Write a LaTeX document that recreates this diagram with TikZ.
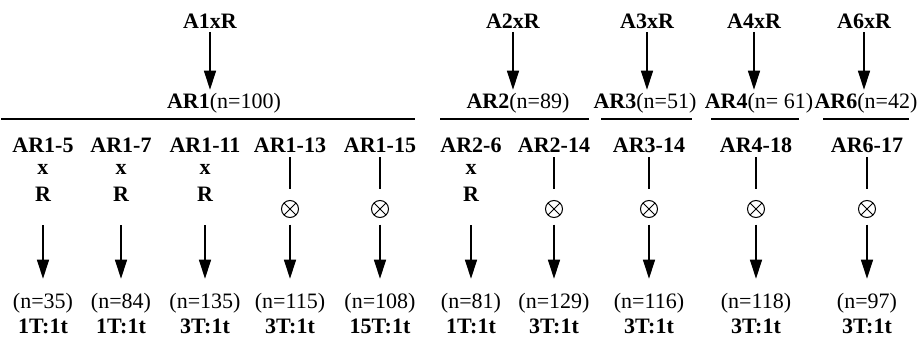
\documentclass[tikz,border=0pt]{standalone}
\usepackage{fontspec}
\setmainfont{Liberation Serif}
\usetikzlibrary{arrows.meta}
\begin{document}
\begin{tikzpicture}[x=1pt,y=-1pt,
  every node/.style={inner sep=0pt,outer sep=0pt,font=\fontsize{22}{26}\selectfont},
  bt/.style={anchor=base,font=\fontsize{22}{26}\selectfont\bfseries},
  rt/.style={anchor=base},
  arr/.style={line width=1.3pt,-{Triangle[length=19pt,width=12pt]}},
  stem/.style={line width=1.2pt},
  rule/.style={line width=1.5pt},
  ox/.style={circle,draw,line width=1pt,minimum size=17pt,
    path picture={\draw[line width=1pt]
      (path picture bounding box.north west) -- (path picture bounding box.south east)
      (path picture bounding box.north east) -- (path picture bounding box.south west);}}
]
\useasboundingbox (0,0) rectangle (922,337);

% crosses and their progeny groups
\node[bt] (A1) at (210,29) {A1xR};
\node[bt] (A2) at (513,29) {A2xR};
\node[bt] (A3) at (647,29) {A3xR};
\node[bt] (A4) at (754,29) {A4xR};
\node[bt] (A6) at (864,29) {A6xR};

\node[rt] (G1) at (224,109) {\textbf{AR1}(n=100)};
\node[rt] (G2) at (518,109) {\textbf{AR2}(n=89)};
\node[rt] (G3) at (645,109) {\textbf{AR3}(n=51)};
\node[rt] (G4) at (759,109) {\textbf{AR4}(n= 61)};
\node[rt] (G6) at (866,109) {\textbf{AR6}(n=42)};

\foreach \k in {1,2,3,4,6}
  \draw[arr,shorten <=3pt,shorten >=4pt] (A\k.south) -- (A\k.south |- G\k.north);

% group rules
\draw[rule] (1,119) -- (415,119);
\draw[rule] (440,119) -- (589,119);
\draw[rule] (601,119) -- (692,119);
\draw[rule] (711,119) -- (799,119);
\draw[rule] (823,119) -- (909,119);

% lines backcrossed to R
\foreach \i/\x/\lab/\n/\r in {a/43/AR1-5/35/1T:1t, b/121/AR1-7/84/1T:1t,
    c/205/AR1-11/135/3T:1t, f/471/AR2-6/81/1T:1t}
{
  \node[bt] (L\i) at (\x,152) {\lab};
  \node[bt] (X\i) at (\x,175) {x};
  \node[bt] (R\i) at (\x,201) {R};
  \node[rt] (N\i) at (\x,308) {(n=\n)};
  \node[bt] (T\i) at (\x,333) {\r};
  \draw[arr,shorten <=24pt,shorten >=14pt] (R\i.south) -- (N\i.north);
}

% selfed lines
\foreach \i/\x/\lab/\n/\r in {d/290/AR1-13/115/3T:1t, e/380/AR1-15/108/15T:1t,
    g/554/AR2-14/129/3T:1t, h/649/AR3-14/116/3T:1t,
    i/756/AR4-18/118/3T:1t, j/867/AR6-17/97/3T:1t}
{
  \node[bt] (L\i) at (\x,152) {\lab};
  \node[ox] (O\i) at (\x,209) {};
  \node[rt] (N\i) at (\x,308) {(n=\n)};
  \node[bt] (T\i) at (\x,333) {\r};
  \draw[stem,shorten <=5pt,shorten >=12pt] (L\i.south) -- (O\i.north);
  \draw[arr,shorten <=7pt,shorten >=14pt] (O\i.south) -- (N\i.north);
}
\end{tikzpicture}
\end{document}
